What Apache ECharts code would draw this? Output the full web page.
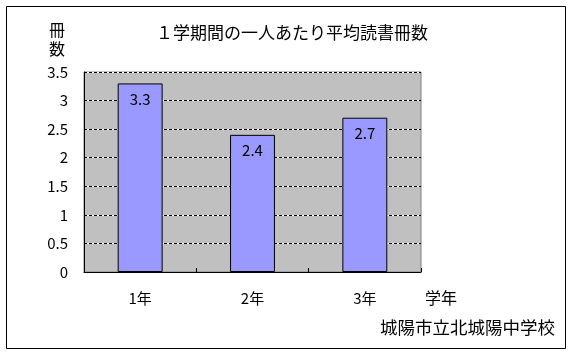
<!DOCTYPE html>
<html>
<head>
<meta charset="utf-8">
<script src="https://cdn.jsdelivr.net/npm/echarts@6/dist/echarts.min.js"></script>
<style>
  * { margin: 0; padding: 0; }
  html, body { width: 571px; height: 355px; background: #fff; }
  #chart { width: 571px; height: 355px; }
</style>
</head>
<body>
<div id="chart"></div>
<script>
var grades = ['1年', '2年', '3年'];
var books = [3.3, 2.4, 2.7];
var titleText = '１学期間の一人あたり平均読書冊数';
var footerText = '城陽市立北城陽中学校';

var font = 'Noto Sans CJK JP';
var chart = echarts.init(document.getElementById('chart'));

var option = {
  animation: false,
  textStyle: { fontFamily: font, color: '#000' },
  title: {
    text: titleText,
    left: 151, top: 19,
    textStyle: { fontFamily: font, fontSize: 17, fontWeight: 'normal', color: '#000' }
  },
  grid: {
    left: 84, top: 72, width: 337, height: 200,
    show: true, backgroundColor: '#c0c0c0', borderColor: '#808080', borderWidth: 1
  },
  xAxis: {
    type: 'category',
    data: grades,
    boundaryGap: true,
    axisLine: { lineStyle: { color: '#000', width: 1 } },
    axisTick: { show: true, inside: true, length: 4, lineStyle: { color: '#000' } },
    axisLabel: { color: '#000', fontSize: 15, margin: 19, fontFamily: font },
    name: '学年',
    nameLocation: 'end',
    nameGap: 4,
    nameTextStyle: { color: '#000', fontSize: 16, fontFamily: font, verticalAlign: 'top', padding: [18, 0, 0, 0] }
  },
  yAxis: [{
    type: 'value',
    min: 0, max: 3.5, interval: 0.5,
    axisLine: { show: true, lineStyle: { color: '#000', width: 1 } },
    axisTick: { show: false },
    axisLabel: { color: '#000', fontSize: 15, margin: 16, fontFamily: font },
    splitLine: { show: true, lineStyle: { color: '#fff', width: 1, type: 'solid' } }
  }, {
    type: 'value',
    min: 0, max: 3.5, interval: 0.5,
    position: 'left',
    axisLine: { show: false },
    axisTick: { show: false },
    axisLabel: { show: false },
    splitLine: { show: true, lineStyle: { color: '#000', width: 1, type: [3, 2] } }
  }],
  series: [{
    type: 'bar',
    data: books,
    barWidth: '40%',
    itemStyle: { color: '#9999ff', borderColor: '#000', borderWidth: 1 },
    label: {
      show: true, position: 'insideTop', distance: 8,
      color: '#000', fontSize: 15, fontFamily: font
    },
    z: 5
  }],
  graphic: [
    {
      type: 'rect',
      shape: { x: 6.5, y: 6.5, width: 559, height: 342 },
      style: { fill: 'none', stroke: '#000', lineWidth: 1 }
    },
    {
      type: 'text', left: 49, top: 20,
      style: { text: '冊\n数', font: '16px "Noto Sans CJK JP"', fill: '#000', lineHeight: 19 }
    },
    {
      type: 'text', left: 380, top: 319,
      style: { text: footerText, font: '17.5px "Noto Sans CJK JP"', fill: '#000' }
    }
  ]
};
chart.setOption(option);
</script>
</body>
</html>
